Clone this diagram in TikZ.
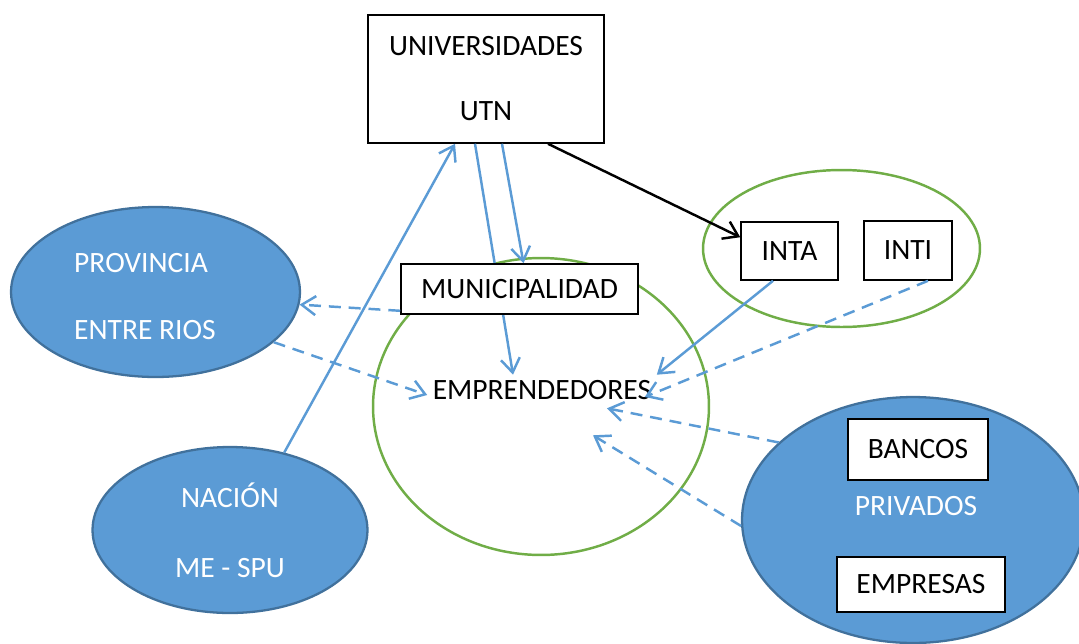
\documentclass[tikz,border=0pt]{standalone}
\usepackage{fontspec}
\setmainfont{Carlito}
\usetikzlibrary{arrows.meta,shapes.geometric}
\definecolor{ofblue}{HTML}{5B9BD5}
\definecolor{ofdark}{HTML}{41719C}
\definecolor{ofgreen}{HTML}{70AD47}

\begin{document}
\begin{tikzpicture}[x=0.02cm,y=-0.02cm,
  box node/.style={rectangle,draw=black,line width=0.9pt,fill=white,inner sep=0pt,font=\fontsize{16.8}{20}\selectfont},
  blue node/.style={ellipse,draw=ofdark,line width=1.3pt,fill=ofblue,inner sep=0pt},
  green node/.style={ellipse,draw=ofgreen,line width=1.4pt,inner sep=0pt},
  white text/.style={text=white,font=\fontsize{16.8}{20}\selectfont},
  link/.style={draw=ofblue,line width=1.4pt,-{Straight Barb[length=2.8mm,width=3.8mm]}},
  dash link/.style={link,dash pattern=on 6.8pt off 4.5pt}]

  \useasboundingbox (0,0) rectangle (1079,643);
  \clip (0,0) rectangle (1079,643);

  % groups
  \node[blue node,minimum width=5.78cm,minimum height=3.4cm] (prov) at (155.5,292){};
  \node[blue node,white text,align=center,minimum width=5.5cm,minimum height=3.32cm] (nac) at (230,530){NACIÓN\\[19.7pt]ME - SPU};
  \node[blue node,minimum width=6.84cm,minimum height=4.92cm] (priv) at (913,520){};
  \node[green node,minimum width=5.54cm,minimum height=3.14cm] (inst) at (841.5,248.5){};
  \node[green node,minimum width=6.72cm,minimum height=5.94cm] (empCirc) at (541,406.5){};

  % texts
  \node[white text,align=left,inner sep=0pt] (provTxt) at (145,296.5){PROVINCIA\\[18pt]ENTRE RIOS};
  \node[white text,inner sep=0pt] (privTxt) at (916,506){PRIVADOS};
  \node[font=\fontsize{16.8}{20}\selectfont,inner sep=3pt] (empr) at (542,390){EMPRENDEDORES};

  % boxes
  \node[box node,align=center,minimum width=4.72cm,minimum height=2.56cm] (univ) at (486,79){UNIVERSIDADES\\[17pt]UTN};
  \node[box node,minimum width=1.94cm,minimum height=1.16cm] (inta) at (789.5,251){INTA};
  \node[box node,minimum width=1.76cm,minimum height=1.18cm] (inti) at (908,250.5){INTI};
  \node[box node,minimum width=2.8cm,minimum height=1.22cm] (bancos) at (918,449.5){BANCOS};
  \node[box node,minimum width=3.36cm,minimum height=1.1cm] (empresas) at (921,584.5){EMPRESAS};

  \path ([xshift=-0.22cm]univ.south) edge[link] ([xshift=-0.58cm]empr.north);

  \node[box node,minimum width=4.74cm,minimum height=1cm] (muni) at (519.5,289){MUNICIPALIDAD};

  \path (nac.55) edge[link] ([xshift=-0.62cm]univ.south)
    ([xshift=0.32cm]univ.south) edge[link] ([xshift=0.08cm]muni.north)
    ([xshift=1.24cm]univ.south) edge[link,draw=black] ([yshift=-0.32cm]inta.north west)
    ([yshift=0.08cm]muni.south west) edge[dash link] (prov.-5)
    (prov.-23) edge[dash link] ([yshift=-0.1cm]empr.west)
    ([xshift=-0.33cm]inta.south) edge[link] (empr.north east)
    ([xshift=0.4cm]inti.south) edge[dash link] ([xshift=-0.24cm,yshift=-0.14cm]empr.east)
    (priv.150) edge[dash link] ([xshift=1.3cm,yshift=-0.06cm]empr.south)
    (priv.182) edge[dash link] ([xshift=1.02cm,yshift=-0.6cm]empr.south);
\end{tikzpicture}
\end{document}
